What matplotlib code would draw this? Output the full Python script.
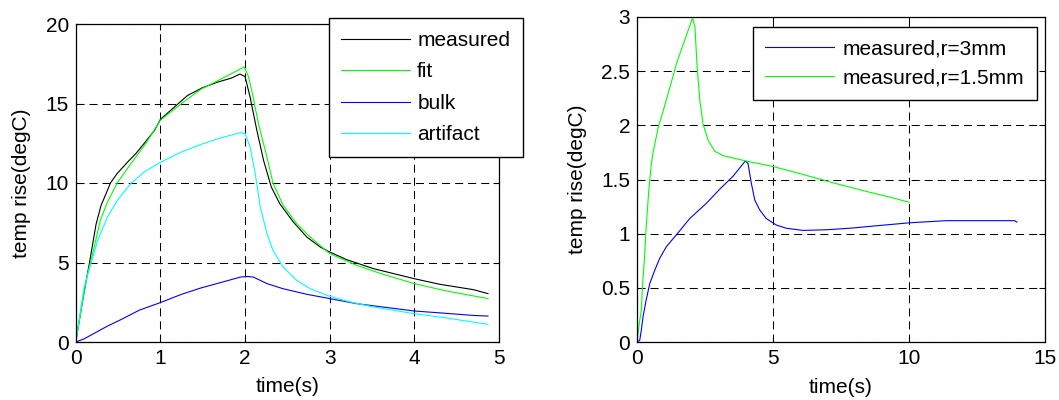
import matplotlib
matplotlib.use("Agg")
import matplotlib.pyplot as plt

plt.rcParams['font.family'] = ['Liberation Sans', 'DejaVu Sans']
plt.rcParams['lines.scale_dashes'] = False

# ---- left panel: measured response and its two-component fit ----
t_measured = [0, 0.05, 0.1, 0.16, 0.24, 0.30, 0.36, 0.41, 0.49, 0.61, 0.71, 0.81, 0.93,
              1.0, 1.17, 1.32, 1.5, 1.68, 1.84, 1.94, 2.0, 2.06, 2.14, 2.22, 2.31, 2.41,
              2.57, 2.73, 2.89, 3.0, 3.2, 3.52, 4.0, 4.3, 4.7, 4.87]
measured = [0, 1.6, 3.2, 4.9, 7.4, 8.6, 9.35, 10.0, 10.6, 11.3, 11.85, 12.5, 13.3,
            14.0, 14.8, 15.5, 16.0, 16.35, 16.6, 16.85, 16.7, 15.4, 13.3, 11.4, 9.75, 8.7,
            7.55, 6.6, 5.97, 5.66, 5.18, 4.61, 3.98, 3.63, 3.29, 3.04]

t_fit = [0, 0.07, 0.14, 0.2, 0.29, 0.375, 0.49, 0.65, 0.83, 1.0, 1.25, 1.48, 1.72,
         1.99, 2.04, 2.08, 2.16, 2.26, 2.33, 2.45, 2.61, 2.77, 3.0, 3.32, 3.63, 4.0,
         4.38, 4.87]
fit = [0, 2.2, 4.3, 5.55, 7.65, 8.8, 10.0, 11.2, 12.5, 13.95, 15.0, 15.9, 16.55,
       17.3, 16.7, 15.8, 13.7, 11.6, 10.0, 8.6, 7.44, 6.6, 5.56, 4.82, 4.26, 3.67,
       3.21, 2.73]

t_bulk = [0, 0.1, 0.22, 0.375, 0.55, 0.75, 1.0, 1.25, 1.48, 1.72, 1.95, 2.04, 2.1,
          2.26, 2.45, 2.73, 3.0, 3.32, 3.63, 4.0, 4.38, 4.7, 4.87]
bulk = [0, 0.2, 0.55, 1.0, 1.45, 2.0, 2.48, 3.0, 3.4, 3.75, 4.09, 4.12, 4.08,
        3.67, 3.35, 3.0, 2.73, 2.41, 2.2, 1.95, 1.8, 1.67, 1.63]

t_artifact = [0, 0.1, 0.18, 0.26, 0.375, 0.49, 0.65, 0.81, 1.0, 1.25, 1.48, 1.72,
              1.95, 2.0, 2.06, 2.12, 2.18, 2.26, 2.33, 2.45, 2.61, 2.77, 3.0, 3.24,
              3.52, 4.0, 4.38, 4.87]
artifact = [0, 3.46, 4.93, 6.4, 7.86, 8.9, 9.96, 10.7, 11.3, 11.95, 12.43, 12.85,
            13.17, 13.1, 12.26, 10.6, 8.5, 6.8, 5.77, 4.72, 3.88, 3.35, 2.87, 2.52,
            2.2, 1.78, 1.51, 1.11]

left_xticks = [0, 1, 2, 3, 4, 5]
left_yticks = [0, 5, 10, 15, 20]
left_labels = ['measured', 'fit', 'bulk', 'artifact']

# ---- right panel: two probe radii ----
t_r3 = [0, 0.1, 0.16, 0.22, 0.34, 0.47, 0.65, 0.83, 1.08, 1.45, 1.94, 2.55, 3.04,
        3.53, 3.98, 4.08, 4.2, 4.33, 4.51, 4.75, 5.12, 5.49, 6.1, 6.96, 7.82, 8.68,
        10.0, 11.37, 12.72, 13.88, 13.97]
r3 = [0, 0.015, 0.11, 0.23, 0.39, 0.54, 0.66, 0.77, 0.88, 0.99, 1.14, 1.28, 1.41,
      1.53, 1.67, 1.65, 1.47, 1.31, 1.22, 1.14, 1.08, 1.05, 1.03, 1.036, 1.05, 1.07,
      1.10, 1.12, 1.12, 1.12, 1.107]

t_r15 = [0, 0.1, 0.16, 0.2, 0.28, 0.34, 0.44, 0.53, 0.6, 0.78, 0.97, 1.21, 1.45,
         1.76, 2.04, 2.13, 2.21, 2.31, 2.43, 2.62, 2.86, 3.17, 4.02, 5.0, 5.98, 7.2,
         8.43, 9.41, 10.0]
r15 = [0, 0.2, 0.29, 0.51, 0.79, 1.07, 1.42, 1.65, 1.76, 1.98, 2.14, 2.35, 2.57,
       2.79, 2.99, 2.91, 2.54, 2.23, 2.01, 1.86, 1.76, 1.72, 1.67, 1.62, 1.555, 1.47,
       1.39, 1.33, 1.29]

right_xticks = [0, 5, 10, 15]
right_yticks = [0, 0.5, 1, 1.5, 2, 2.5, 3]
right_yticklabels = ['0', '0.5', '1', '1.5', '2', '2.5', '3']
right_labels = ['measured,r=3mm', 'measured,r=1.5mm']

FS = 15
LW = 0.8
GREEN = '#00ff00'
CYAN = '#00ffff'
BLUE = '#0000ff'
GRID_DASH = (0, (5.8, 3.6))

fig = plt.figure(figsize=(10.59, 4.0), dpi=100)
ax1 = fig.add_axes([0.0715, 0.145, 0.3997, 0.795])
ax2 = fig.add_axes([0.6015, 0.145, 0.3853, 0.8125])


def style_axes(ax):
    ax.set_axisbelow(True)
    ax.grid(True, color='k', linestyle=GRID_DASH, linewidth=0.75)
    for s in ax.spines.values():
        s.set_linewidth(0.9)
        s.set_color('k')
    ax.tick_params(direction='in', length=4, width=0.75, top=True, right=True,
                   labelsize=FS, colors='k')
    ax.tick_params(axis='x', pad=5)
    ax.tick_params(axis='y', pad=5)
    ax.set_xlabel('time(s)', fontsize=FS)
    ax.set_ylabel('temp rise(degC)', fontsize=FS)


# left panel
ax1.plot(t_measured, measured, color='k', lw=LW, label=left_labels[0])
ax1.plot(t_fit, fit, color=GREEN, lw=LW, label=left_labels[1])
ax1.plot(t_bulk, bulk, color=BLUE, lw=LW, label=left_labels[2])
ax1.plot(t_artifact, artifact, color=CYAN, lw=LW, label=left_labels[3])
ax1.set_xlim(0, 5)
ax1.set_ylim(0, 20)
ax1.set_xticks(left_xticks)
ax1.set_yticks(left_yticks)
style_axes(ax1)
ax1.xaxis.set_label_coords(0.5, -0.11)
ax1.yaxis.set_label_coords(-0.105, 0.5)

leg1 = ax1.legend(loc='upper right', bbox_to_anchor=(0.4936, 0.954),
                  bbox_transform=fig.transFigure, borderaxespad=0, fontsize=FS,
                  fancybox=False, framealpha=1, edgecolor='k', handlelength=3.3,
                  handletextpad=0.35, labelspacing=0.6, borderpad=0.6)
leg1.get_frame().set_linewidth(1.0)

# right panel
ax2.plot(t_r3, r3, color=BLUE, lw=LW, label=right_labels[0])
ax2.plot(t_r15, r15, color=GREEN, lw=LW, label=right_labels[1])
ax2.set_xlim(0, 15)
ax2.set_ylim(0, 3)
ax2.set_xticks(right_xticks)
ax2.set_yticks(right_yticks)
ax2.set_yticklabels(right_yticklabels)
style_axes(ax2)
ax2.xaxis.set_label_coords(0.5, -0.11)
ax2.yaxis.set_label_coords(-0.122, 0.5)

leg2 = ax2.legend(loc='upper right', bbox_to_anchor=(0.979, 0.932),
                  bbox_transform=fig.transFigure, borderaxespad=0, fontsize=FS,
                  fancybox=False, framealpha=1, edgecolor='k', handlelength=3.3,
                  handletextpad=0.45, labelspacing=0.5, borderpad=0.58)
leg2.get_frame().set_linewidth(1.0)

fig.savefig('out.png', dpi=100, facecolor='white')
